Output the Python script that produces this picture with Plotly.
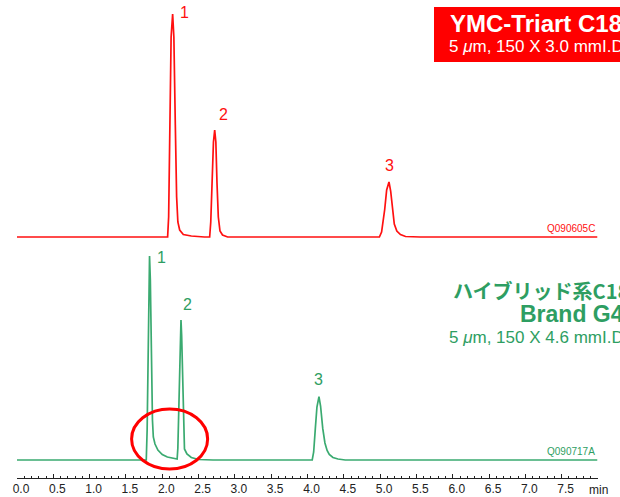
import plotly.graph_objects as go

# ---- data (time in min, signal in arbitrary units) ----
red_time = [0.00, 2.074, 2.088, 2.102, 2.122, 2.143, 2.160, 2.180, 2.198, 2.215, 2.24, 2.29, 2.40, 2.58,
            2.653, 2.668, 2.685, 2.705, 2.722, 2.738, 2.754, 2.772, 2.795, 2.83, 2.90,
            4.99, 5.02, 5.045, 5.063, 5.09, 5.122, 5.145, 5.168, 5.195, 5.23, 5.28, 5.35, 5.55, 7.99]
red_signal = [0, 0, 20, 112, 200, 223, 200, 112, 40, 15, 7, 2.5, 1, 0,
              0, 15, 53.5, 95, 107, 95, 53.5, 20, 6, 2, 0,
              0, 5, 17, 27.5, 47, 55, 46, 27.5, 13, 6, 2.5, 0.5, 0, 0]

green_time = [0.00, 1.780, 1.792, 1.803, 1.815, 1.825, 1.836, 1.850, 1.865, 1.877, 1.90, 1.94, 2.00,
              2.07, 2.15, 2.195,
              2.205, 2.215, 2.235, 2.250, 2.258, 2.267, 2.281, 2.295, 2.306, 2.34, 2.40, 2.50, 2.70,
              4.065, 4.085, 4.108, 4.13, 4.158, 4.18, 4.21, 4.24, 4.27, 4.30, 4.35, 4.42, 4.52, 7.99]
green_signal = [0, 0, 30, 102, 185, 204, 180, 100, 40, 23, 16, 10, 5.5,
                3, 1.5, 1,
                1, 12, 70, 128, 140, 125, 70, 25, 11, 6, 2.5, 0.5, 0,
                0, 8, 31.6, 53, 63.3, 54, 31.6, 17, 9.5, 5.5, 2.5, 1, 0, 0]

red_peak_labels = ["1", "2", "3"]
red_peak_time = [2.143, 2.722, 5.122]
red_peak_height = [223, 107, 55]
green_peak_labels = ["1", "2", "3"]
green_peak_time = [1.825, 2.258, 4.158]
green_peak_height = [204, 140, 63.3]

tick_vals = [0.0, 0.5, 1.0, 1.5, 2.0, 2.5, 3.0, 3.5, 4.0, 4.5, 5.0, 5.5, 6.0, 6.5, 7.0, 7.5, 8.0]
tick_text = ["0.0", "0.5", "1.0", "1.5", "2.0", "2.5", "3.0", "3.5", "4.0", "4.5",
             "5.0", "5.5", "6.0", "6.5", "7.0", "7.5", ""]
unit_label = "min"

RED = "#ff1010"
GREEN_LINE = "#3aaa70"
GREEN_TEXT = "#2e9e62"
FONT = "Liberation Sans, Arial, sans-serif"

W, H = 620, 497
ML, MR, MT, MB = 17, 22, 0, 19
PW, PH = W - ML - MR, H - MT - MB


def px(x):
    return (x - ML) / PW


def py(y):
    return (H - MB - y) / PH


fig = go.Figure()
fig.add_trace(go.Scatter(x=green_time, y=green_signal, mode="lines",
                         line=dict(color=GREEN_LINE, width=1.7), yaxis="y",
                         showlegend=False, hoverinfo="skip"))
fig.add_trace(go.Scatter(x=red_time, y=red_signal, mode="lines",
                         line=dict(color=RED, width=1.7), yaxis="y2",
                         showlegend=False, hoverinfo="skip"))

annotations = []
# peak number labels (pixel offsets from each apex)
red_offsets = [(12, 2), (9, 16), (1, 17)]
for lab, t, h, (dx, dy) in zip(red_peak_labels, red_peak_time, red_peak_height, red_offsets):
    annotations.append(dict(x=t, y=h, xref="x", yref="y2", text=lab, showarrow=False,
                            xshift=dx, yshift=dy, font=dict(family=FONT, size=16, color=RED)))
green_offsets = [(12, -1), (7, 16), (0, 17)]
for lab, t, h, (dx, dy) in zip(green_peak_labels, green_peak_time, green_peak_height, green_offsets):
    annotations.append(dict(x=t, y=h, xref="x", yref="y", text=lab, showarrow=False,
                            xshift=dx, yshift=dy, font=dict(family=FONT, size=16, color=GREEN_TEXT)))

# sample ids
annotations.append(dict(x=7.99, y=0, xref="x", yref="y2", text="Q090605C", showarrow=False,
                        xanchor="right", yanchor="bottom", yshift=1,
                        font=dict(family=FONT, size=10, color=RED)))
annotations.append(dict(x=7.99, y=0, xref="x", yref="y", text="Q090717A", showarrow=False,
                        xanchor="right", yanchor="bottom", yshift=1,
                        font=dict(family=FONT, size=10, color=GREEN_TEXT)))

# axis unit label
annotations.append(dict(x=8.0, y=0, xref="x", yref="paper", text=unit_label, showarrow=False,
                        xanchor="center", yanchor="top", yshift=-3,
                        font=dict(family=FONT, size=12, color="#222222")))

# column titles
annotations += [
    dict(x=px(448), y=py(23), xref="paper", yref="paper", xanchor="left", yanchor="middle",
         text="<b>YMC-Triart C18</b>", showarrow=False,
         font=dict(family=FONT, size=24, color="white")),
    dict(x=px(447), y=py(47), xref="paper", yref="paper", xanchor="left", yanchor="middle",
         text="5 <i>μ</i>m, 150 X 3.0 mmI.D.", showarrow=False,
         font=dict(family=FONT, size=17, color="white")),
    dict(x=px(451), y=py(290), xref="paper", yref="paper", xanchor="left", yanchor="middle",
         text="<b>ハイブリッド系C18</b>", showarrow=False,
         font=dict(family="Noto Sans CJK JP, " + FONT, size=20, color=GREEN_TEXT)),
    dict(x=px(518), y=py(314), xref="paper", yref="paper", xanchor="left", yanchor="middle",
         text="<b>Brand G4</b>", showarrow=False,
         font=dict(family=FONT, size=23, color=GREEN_TEXT)),
    dict(x=px(447), y=py(337), xref="paper", yref="paper", xanchor="left", yanchor="middle",
         text="5 <i>μ</i>m, 150 X 4.6 mmI.D.", showarrow=False,
         font=dict(family=FONT, size=17, color=GREEN_TEXT)),
]

shapes = [
    dict(type="rect", xref="paper", yref="paper", x0=px(434), x1=px(700),
         y0=py(62), y1=py(7), fillcolor="#ff0000", line=dict(width=0), layer="below"),
    dict(type="circle", xref="x", yref="y", x0=1.578, x1=2.625, y0=-9, y1=51,
         line=dict(color="#ff0000", width=3)),
]

fig.update_layout(
    width=W, height=H,
    margin=dict(l=ML, r=MR, t=MT, b=MB),
    paper_bgcolor="white", plot_bgcolor="white",
    font=dict(family=FONT, size=12, color="#222222"),
    xaxis=dict(range=[0, 8], tickvals=tick_vals, ticktext=tick_text,
               showline=True, linecolor="#222222", linewidth=1,
               ticks="inside", ticklen=4, tickcolor="#222222", tickwidth=1,
               minor=dict(dtick=0.1, ticks="inside", ticklen=2.5, tickcolor="#222222", tickwidth=1),
               showgrid=False, zeroline=False, automargin=False, ticklabelshift=4,
               tickfont=dict(family=FONT, size=12, color="#222222")),
    yaxis=dict(range=[-18, 460], visible=False, showgrid=False, zeroline=False),
    yaxis2=dict(range=[-241, 237], overlaying="y", visible=False, showgrid=False, zeroline=False),
    annotations=annotations,
    shapes=shapes,
)

fig.write_html("out.html", config={"displayModeBar": False},
               post_script="document.body.style.margin='0';document.body.style.overflow='hidden';")
